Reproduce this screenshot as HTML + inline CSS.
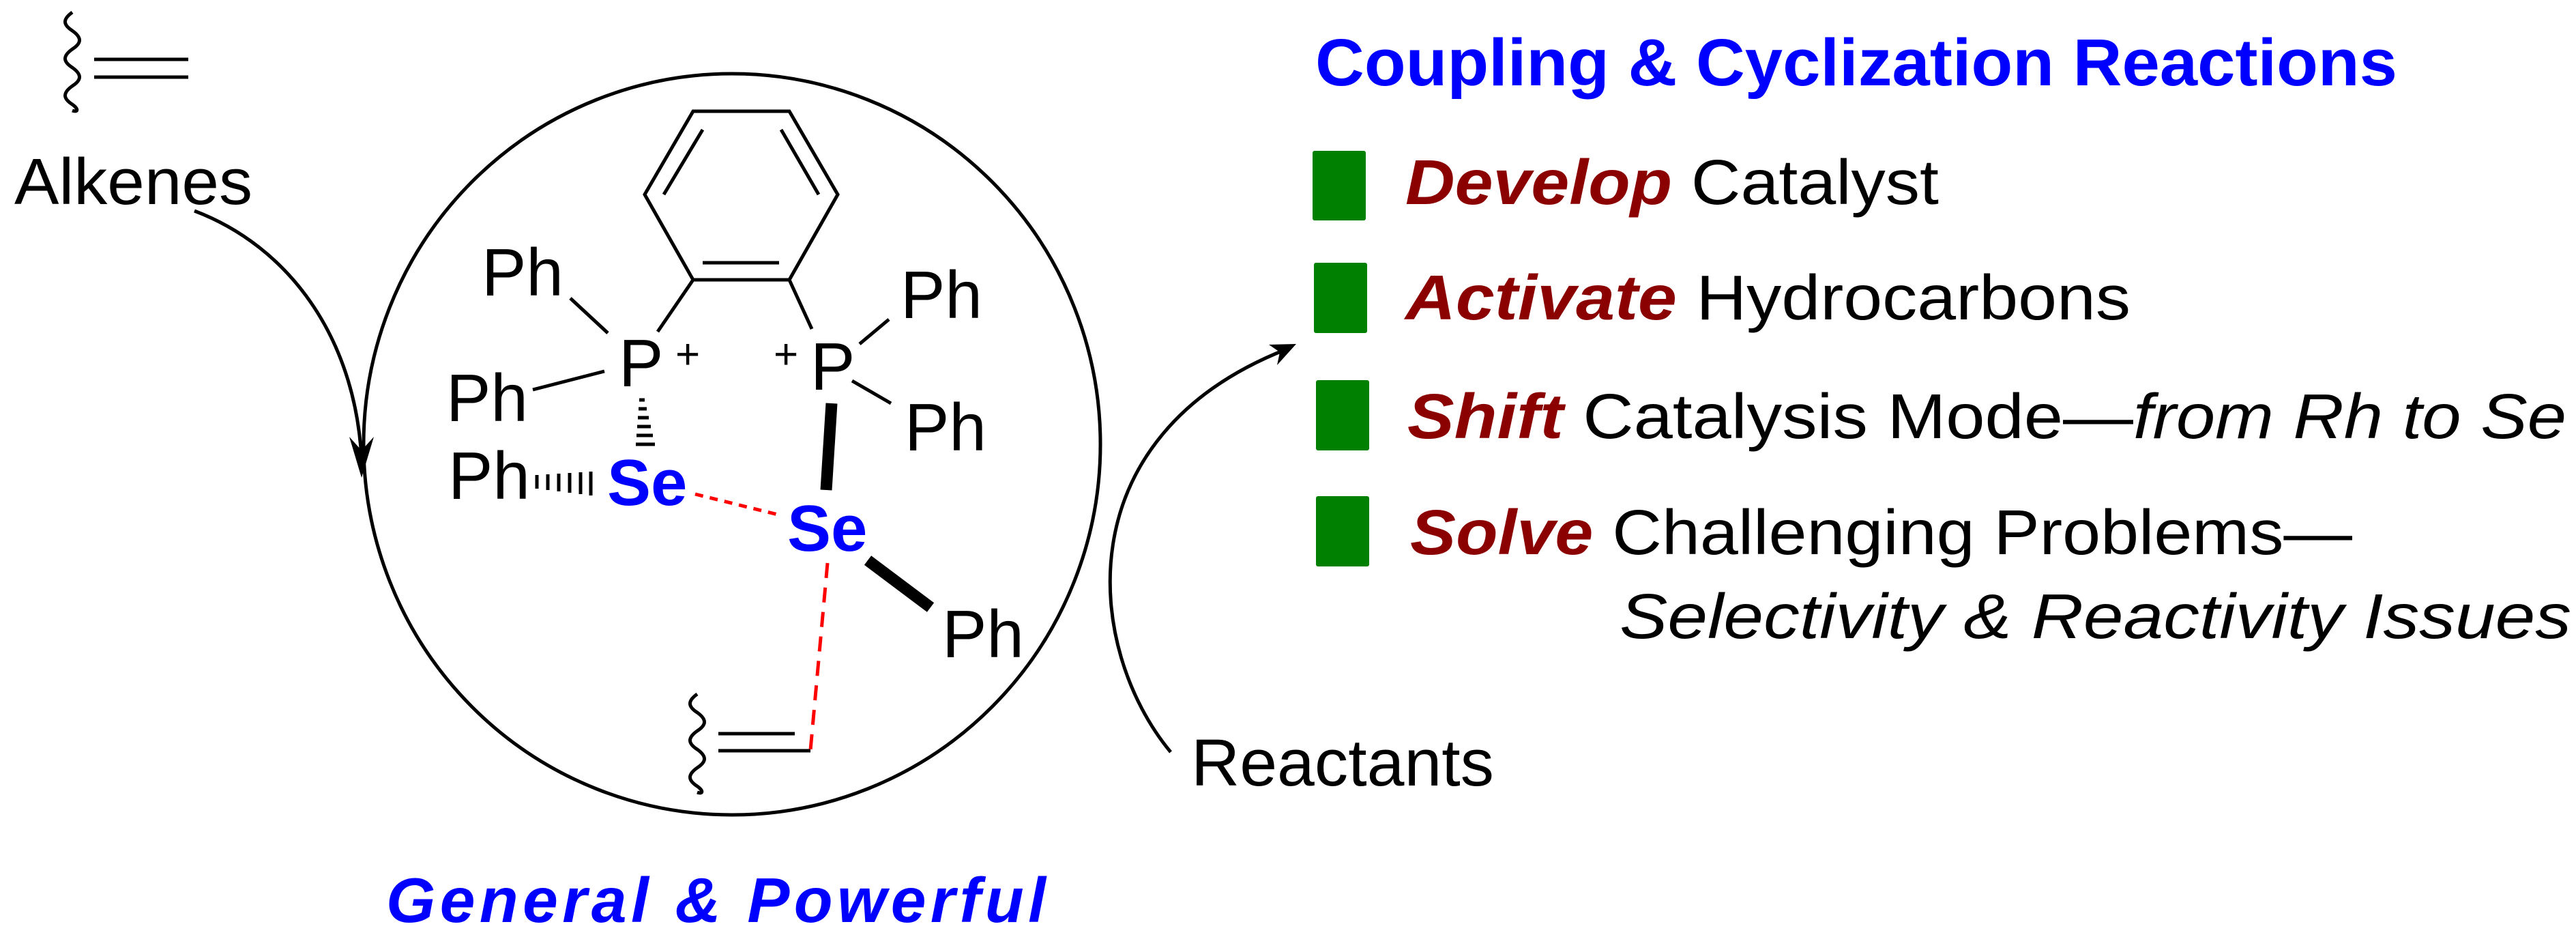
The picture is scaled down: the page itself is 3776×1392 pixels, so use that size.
<!DOCTYPE html>
<html><head><meta charset="utf-8"><style>
html,body{margin:0;padding:0;background:#fff;}
svg{display:block;}
text{font-family:"Liberation Sans",Arial,sans-serif;}
</style></head><body>
<svg width="3776" height="1392" viewBox="0 0 3776 1392" xmlns="http://www.w3.org/2000/svg">
<defs>
<marker id="ah" viewBox="0 0 10 10" refX="9" refY="5" markerWidth="9" markerHeight="9" orient="auto" markerUnits="userSpaceOnUse">
</marker>
</defs>
<g fill="none" stroke="#000" stroke-width="5">
<!-- top-left alkene -->
<path d="M106,18 c-14,10 -14,18 0,27 c14,10 14,18 0,27 c-14,10 -14,18 0,27 c14,10 14,18 0,27 c-14,10 -14,18 0,27 c10,7 8,12 0,9"/>
<line x1="138" y1="87" x2="276" y2="87"/>
<line x1="138" y1="113" x2="276" y2="113"/>
<!-- circle -->
<ellipse cx="1073" cy="651" rx="540" ry="543"/>
<!-- alkenes arrow -->
<path d="M285,309 C420,360 520,490 530,672"/>
<!-- reactants arrow -->
<path d="M1716,1102 C1590,950 1560,640 1885,512"/>
<!-- benzene -->
<polygon points="1016,163 1157,163 1228,285 1157,410 1016,410 945,285"/>
<line x1="973" y1="285" x2="1030" y2="190"/>
<line x1="1200" y1="285" x2="1145" y2="190"/>
<line x1="1030" y1="385" x2="1142" y2="385"/>
<!-- left P bonds -->
<line x1="1016" y1="410" x2="964" y2="486"/>
<line x1="836" y1="437" x2="891" y2="488"/>
<line x1="781" y1="571" x2="886" y2="544"/>
<!-- right P bonds -->
<line x1="1157" y1="410" x2="1190" y2="482"/>
<line x1="1260" y1="504" x2="1303" y2="468"/>
<line x1="1249" y1="558" x2="1306" y2="591"/>
<!-- bottom alkene -->
<path d="M1022,1017 c-14,10 -14,18 0,27 c14,10 14,18 0,27 c-14,10 -14,18 0,27 c14,10 14,18 0,27 c-14,10 -14,18 0,27 c10,7 8,12 0,9"/>
<line x1="1053" y1="1075" x2="1165" y2="1075"/>
<line x1="1053" y1="1100" x2="1188" y2="1100"/>
</g>
<!-- arrowheads -->
<polygon points="530,700 512,640 530,660 548,640" fill="#000"/>
<polygon points="1900,504 1860,505 1876,516 1872,535" fill="#000"/>
<!-- hashed P-Se -->
<g stroke="#000" stroke-width="5">
<line x1="937" y1="586" x2="945" y2="586"/>
<line x1="936" y1="599" x2="948" y2="599"/>
<line x1="935" y1="612" x2="951" y2="612"/>
<line x1="934" y1="625" x2="954" y2="625"/>
<line x1="933" y1="638" x2="957" y2="638"/>
<line x1="932" y1="651" x2="960" y2="651"/>
<!-- Ph-Se hash -->
<line x1="787" y1="696" x2="787" y2="716"/>
<line x1="803" y1="695" x2="803" y2="718"/>
<line x1="819" y1="694" x2="819" y2="720"/>
<line x1="835" y1="693" x2="835" y2="722"/>
<line x1="851" y1="692" x2="851" y2="724"/>
<line x1="866" y1="691" x2="866" y2="726"/>
</g>
<!-- bold bonds -->
<line x1="1219" y1="591" x2="1211" y2="718" stroke="#000" stroke-width="17"/>
<line x1="1272" y1="821" x2="1364" y2="890" stroke="#000" stroke-width="17"/>
<!-- red dashed -->
<line x1="1019" y1="724" x2="1140" y2="754" stroke="#f00" stroke-width="5" stroke-dasharray="12,10"/>
<line x1="1213" y1="825" x2="1188" y2="1099" stroke="#f00" stroke-width="5" stroke-dasharray="22,14"/>

<!-- text -->
<text x="21" y="299" font-size="96" textLength="349" lengthAdjust="spacingAndGlyphs">Alkenes</text>
<text x="706" y="433" font-size="98">Ph</text>
<text x="654" y="617" font-size="98">Ph</text>
<text x="657" y="731" font-size="98">Ph</text>
<text x="907" y="566" font-size="98">P</text>
<text x="990" y="540" font-size="62">+</text>
<text x="1134" y="540" font-size="62">+</text>
<text x="1188" y="571" font-size="98">P</text>
<text x="1320" y="466" font-size="98">Ph</text>
<text x="1326" y="660" font-size="98">Ph</text>
<text x="1381" y="963" font-size="98">Ph</text>
<text x="890" y="740" font-size="96" font-weight="bold" fill="#0000ff">Se</text>
<text x="1154" y="807" font-size="96" font-weight="bold" fill="#0000ff">Se</text>
<text x="566" y="1351" font-size="93" font-weight="bold" font-style="italic" fill="#0000ff" textLength="967" lengthAdjust="spacing">General &amp; Powerful</text>
<text x="1746" y="1151" font-size="97" textLength="444" lengthAdjust="spacingAndGlyphs">Reactants</text>

<text x="1928" y="125" font-size="97" font-weight="bold" fill="#0000ff" textLength="1586" lengthAdjust="spacingAndGlyphs">Coupling &amp; Cyclization Reactions</text>

<g fill="#008000">
<rect x="1924" y="221" width="78" height="102" rx="3"/>
<rect x="1926" y="385" width="78" height="103" rx="3"/>
<rect x="1929" y="557" width="78" height="103" rx="3"/>
<rect x="1929" y="727" width="78" height="103" rx="3"/>
</g>
<g font-size="93">
<text x="2060" y="299" textLength="782" lengthAdjust="spacingAndGlyphs"><tspan font-weight="bold" font-style="italic" fill="#8b0000">Develop</tspan> Catalyst</text>
<text x="2060" y="468" textLength="1063" lengthAdjust="spacingAndGlyphs"><tspan font-weight="bold" font-style="italic" fill="#8b0000">Activate</tspan> Hydrocarbons</text>
<text x="2063" y="642" textLength="1699" lengthAdjust="spacingAndGlyphs"><tspan font-weight="bold" font-style="italic" fill="#8b0000">Shift</tspan> Catalysis Mode—<tspan font-style="italic">from Rh to Se</tspan></text>
<text x="2067" y="812" textLength="1381" lengthAdjust="spacingAndGlyphs"><tspan font-weight="bold" font-style="italic" fill="#8b0000">Solve</tspan> Challenging Problems—</text>
<text x="2374" y="935" font-style="italic" textLength="1395" lengthAdjust="spacingAndGlyphs">Selectivity &amp; Reactivity Issues</text>
</g>
</svg>
</body></html>
